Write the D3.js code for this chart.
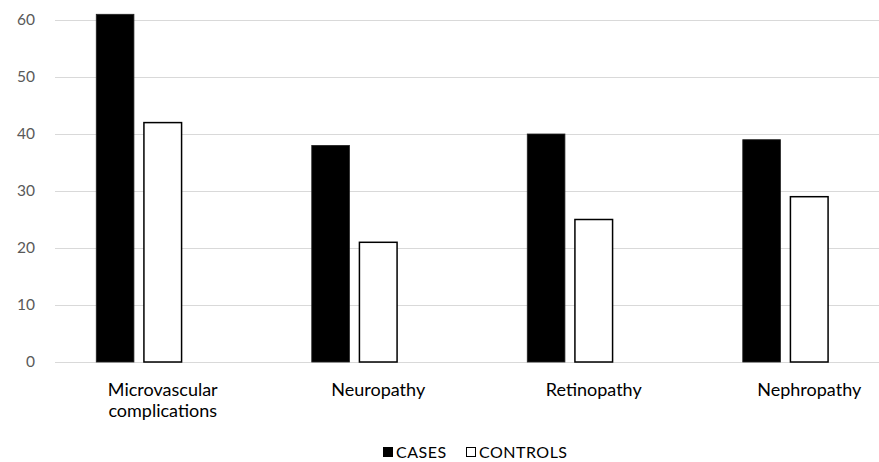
<!DOCTYPE html>
<html>
<head>
<meta charset="utf-8">
<script src="https://cdn.jsdelivr.net/npm/d3@7"></script>
<style>
  body { margin: 0; background: #fff; }
  svg { font-family: Lato, "Open Sans", sans-serif; }
</style>
</head>
<body>
<div id="chart"></div>
<script>
// chart data
const categories = ["Microvascular complications", "Neuropathy", "Retinopathy", "Nephropathy"];
const seriesNames = ["CASES", "CONTROLS"];
const cases = [61, 38, 40, 39];
const controls = [42, 21, 25, 29];
const yTicks = [0, 10, 20, 30, 40, 50, 60];

var width = 879,
    height = 462;

var svg = d3.select("#chart")
  .append("svg")
  .attr("width", width)
  .attr("height", height);

// plot area runs past the right edge (cropped in the original)
var x0 = d3.scaleBand()
  .domain(categories)
  .range([55, 917])
  .paddingInner(0.383)
  .paddingOuter(0.1915);

// third slot left empty, as in the original layout
var x1 = d3.scaleBand()
  .domain(seriesNames.concat(["_empty"]))
  .range([0, x0.bandwidth()])
  .paddingInner(0.21);

var y = d3.scaleLinear()
  .domain([0, 60])
  .range([362, 20]);

// gridlines + y labels
var yAxis = d3.axisLeft(y)
  .tickValues(yTicks)
  .tickSize(-(width - 55))
  .tickPadding(20);

var gy = svg.append("g")
  .attr("transform", "translate(55,0)")
  .call(yAxis);
gy.select(".domain").remove();
gy.selectAll(".tick line").attr("stroke", "#d9d9d9").attr("stroke-width", 1.2);
gy.selectAll(".tick text")
  .attr("fill", "#595959")
  .style("font-family", "Lato, sans-serif")
  .style("font-size", "15.5px");

var rows = categories.map(function (c, i) {
  return { cat: c, values: [
    { key: "CASES", value: cases[i] },
    { key: "CONTROLS", value: controls[i] }
  ] };
});

var groups = svg.selectAll(".grp")
  .data(rows)
  .enter()
  .append("g")
  .attr("class", "grp")
  .attr("transform", function (d) { return "translate(" + x0(d.cat) + ",0)"; });

groups.selectAll("rect")
  .data(function (d) { return d.values; })
  .enter()
  .append("rect")
  .attr("x", function (d) { return x1(d.key); })
  .attr("y", function (d) { return y(d.value); })
  .attr("width", x1.bandwidth())
  .attr("height", function (d) { return y(0) - y(d.value); })
  .attr("fill", function (d) { return d.key == "CASES" ? "#000" : "#fff"; })
  .attr("stroke", function (d) { return d.key == "CASES" ? "#222" : "#000"; })
  .attr("stroke-width", function (d) { return d.key == "CASES" ? 0.8 : 1.5; });

// category labels (wrapped like the original)
var xLabels = svg.selectAll(".xlab")
  .data(categories)
  .enter()
  .append("text")
  .attr("class", "xlab")
  .attr("text-anchor", "middle")
  .attr("fill", "#000")
  .style("font-size", "18px")
  .attr("x", function (d) { return x0(d) + x0.bandwidth() / 2; })
  .attr("y", 396);

xLabels.each(function (d) {
  var t = d3.select(this);
  var words = d.split(" ");
  words.forEach(function (w, i) {
    t.append("tspan")
      .attr("x", x0(d) + x0.bandwidth() / 2)
      .attr("dy", i == 0 ? 0 : 20.5)
      .text(w);
  });
});

// legend
var legend = svg.append("g").attr("transform", "translate(383,447)");
var legItems = [
  { name: seriesNames[0], x: 0, fill: "#000" },
  { name: seriesNames[1], x: 83, fill: "#fff" }
];
legItems.forEach(function (it) {
  legend.append("rect")
    .attr("x", it.x + 0.5)
    .attr("y", 0.5)
    .attr("width", 9)
    .attr("height", 9)
    .attr("fill", it.fill)
    .attr("stroke", "#000")
    .attr("stroke-width", 1);
  legend.append("text")
    .attr("x", it.x + 13)
    .attr("y", 10.5)
    .attr("fill", "#000")
    .style("font-size", "16px")
    .style("letter-spacing", "0.5px")
    .text(it.name);
});
</script>
</body>
</html>
